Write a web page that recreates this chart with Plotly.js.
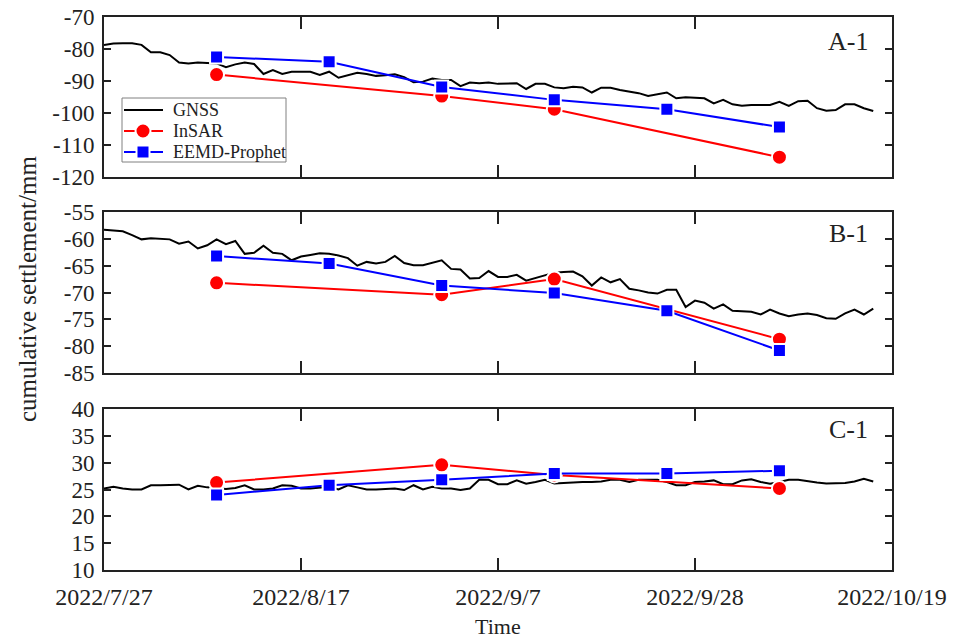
<!DOCTYPE html>
<html>
<head>
<meta charset="utf-8">
<script src="https://cdn.plot.ly/plotly-3.0.1.min.js"></script>
<style>
  html, body { margin: 0; padding: 0; background: #fff; }
  #chart { width: 957px; height: 639px; }
</style>
</head>
<body>
<div id="chart"></div>
<script>
// ---------- DATA ----------
const gnssStart = '2022-07-27';   // GNSS daily series start
const gnssA = [-78.75,-78.3,-78.2,-78.2,-78.7,-81,-81,-81.9,-84.2,-84.5,-84.2,-84.3,-84.5,-85.7,-84.8,-84.2,-84.7,-87.8,-86.6,-87.8,-87.1,-87.1,-87.1,-88.1,-87.1,-89,-88.1,-87.4,-87.8,-88.4,-88.2,-87.9,-88.8,-90.4,-90.2,-89.2,-89.7,-89.7,-91.6,-90.5,-90.7,-90.5,-90.9,-90.9,-90.7,-92.5,-90.9,-90.9,-92,-92.3,-91.8,-92,-93.6,-92.1,-92.1,-92.8,-93.3,-93.8,-94.7,-94.2,-93.6,-95.4,-95.1,-95.2,-95.4,-97,-95.9,-97.3,-97.7,-97.5,-97.5,-97.5,-96.5,-97.8,-96.3,-96.2,-98.5,-99.3,-99.1,-97.3,-97.3,-98.5,-99.4];
const gnssB = [-58.3,-58.4,-58.6,-59.3,-60.1,-59.9,-60,-60.1,-60.9,-60.5,-61.8,-61.2,-60.1,-61,-60.4,-62.8,-62.6,-61.3,-62.6,-62.8,-64,-63.3,-63,-62.7,-62.8,-63.1,-63.6,-65,-64.3,-64.6,-64.3,-63.2,-64.5,-64.9,-64.9,-64.5,-64,-65.6,-65.7,-67.4,-67.3,-66,-67.1,-67.1,-66.7,-67.8,-67.3,-66.7,-66.3,-66.2,-66.1,-67,-68.7,-67.2,-68.1,-67.5,-69.3,-69.6,-70,-70.2,-69.5,-69.5,-72.7,-71.5,-71.9,-73,-72.2,-73.4,-73.5,-73.6,-74.1,-73.2,-73.9,-74.4,-74.1,-73.9,-74.2,-74.8,-74.9,-73.9,-73.2,-74.1,-73];
const gnssC = [25.2,25.5,25.2,25,25,25.8,25.8,25.8,25.9,25,25.7,25.4,25.2,25.1,25.3,25.8,25,25,25.2,25.8,25.7,25.2,25.2,25.3,25.5,25,25.8,25.4,25,25,25.1,25.2,24.9,25.8,25,25.5,25.2,25.2,24.9,25.2,26.8,26.8,26,26,26.7,26.1,26.4,26.8,26.1,26.2,26.4,26.4,26.4,26.5,26.8,26.8,26.4,26.8,26.8,26.8,26.4,25.8,25.8,26.4,26.5,26.7,26,26,26.7,26.9,26.4,26.1,26.4,26.8,26.8,26.5,26.3,26.1,26.1,26.2,26.5,27,26.5];

const insarDates = ['2022-08-08','2022-09-01','2022-09-13','2022-10-07'];
const insarA = [-88, -94.7, -98.8, -113.8];
const insarB = [-68.2, -70.4, -67.5, -78.7];
const insarC = [26.3, 29.6, 27.7, 25.2];

const eemdDates = ['2022-08-08','2022-08-20','2022-09-01','2022-09-13','2022-09-25','2022-10-07'];
const eemdA = [-82.5, -84, -91.9, -95.9, -98.8, -104.4];
const eemdB = [-63.2, -64.6, -68.7, -70.1, -73.4, -80.8];
const eemdC = [24, 25.8, 26.8, 28, 28, 28.5];

const xTickVals = ['2022-07-27','2022-08-17','2022-09-07','2022-09-28','2022-10-19'];
const xTickText = ['2022/7/27','2022/8/17','2022/9/7','2022/9/28','2022/10/19'];
const yTickValsA = [-70,-80,-90,-100,-110,-120];
const yTickTextA = ['-70','-80','-90','-100','-110','-120'];
const yTickValsB = [-55,-60,-65,-70,-75,-80,-85];
const yTickTextB = ['-55','-60','-65','-70','-75','-80','-85'];
const yTickValsC = [40,35,30,25,20,15,10];
const yTickTextC = ['40','35','30','25','20','15','10'];
const panelLabels = ['A-1','B-1','C-1'];
const seriesNames = ['GNSS','InSAR','EEMD-Prophet'];
const seriesColors = ['#000000','#ff0000','#0000ff'];

// ---------- BUILD ----------
function dailyDates(start, n) {
  const out = [];
  const d0 = new Date(start + 'T00:00:00Z');
  for (let i = 0; i < n; i++) {
    const d = new Date(d0.getTime() + i * 86400000);
    out.push(d.toISOString().slice(0, 10));
  }
  return out;
}
const gnssDates = dailyDates(gnssStart, gnssA.length);

const FONT = '"Liberation Serif", "Times New Roman", serif';
const panels = [
  {g: gnssA, i: insarA, e: eemdA, xa: 'x',  ya: 'y'},
  {g: gnssB, i: insarB, e: eemdB, xa: 'x2', ya: 'y2'},
  {g: gnssC, i: insarC, e: eemdC, xa: 'x3', ya: 'y3'}
];
const traces = [];
panels.forEach((p, k) => {
  traces.push({
    x: gnssDates, y: p.g, xaxis: p.xa, yaxis: p.ya, mode: 'lines',
    name: seriesNames[0], showlegend: false,
    line: {color: seriesColors[0], width: 2}
  });
  traces.push({
    x: insarDates, y: p.i, xaxis: p.xa, yaxis: p.ya, mode: 'lines+markers',
    name: seriesNames[1], showlegend: false,
    line: {color: seriesColors[1], width: 2},
    marker: {symbol: 'circle', size: 15, color: seriesColors[1], line: {color: '#fff', width: 2}}
  });
  traces.push({
    x: eemdDates, y: p.e, xaxis: p.xa, yaxis: p.ya, mode: 'lines+markers',
    name: seriesNames[2], showlegend: false,
    line: {color: seriesColors[2], width: 2},
    marker: {symbol: 'square', size: 13, color: seriesColors[2], line: {color: '#fff', width: 2}}
  });
});

function xAxis(anchor, showLabels) {
  return {
    anchor: anchor, type: 'date',
    range: ['2022-07-27', '2022-10-19'],
    tickvals: xTickVals, ticktext: xTickText,
    showticklabels: showLabels,
    ticks: 'inside', ticklen: 12, tickwidth: 2, tickcolor: '#222',
    showline: true, linewidth: 2, linecolor: '#222', mirror: 'ticks',
    showgrid: false, zeroline: false,
    tickfont: {family: FONT, size: 24, color: '#222'},
    ticklabelstandoff: 4
  };
}
function yAxis(anchor, domain, range, vals, text) {
  return {
    anchor: anchor, domain: domain, range: range,
    tickvals: vals, ticktext: text,
    ticks: 'inside', ticklen: 7, tickwidth: 2, tickcolor: '#222',
    showline: true, linewidth: 2, linecolor: '#222', mirror: 'ticks',
    showgrid: false, zeroline: false,
    tickfont: {family: FONT, size: 23, color: '#222'},
    ticklabelstandoff: 3
  };
}

// ---- legend drawn as shapes + text (pixel layout helpers) ----
const L = 104, T = 17, PW = 788, PH = 553;
const px = X => (X - L) / PW;
const py = Y => (T + PH - Y) / PH;
const legRows = [110, 131, 152];
const shapes = [
  {type: 'rect', xref: 'paper', yref: 'paper', x0: px(122), x1: px(286), y0: py(162), y1: py(98),
   line: {color: '#808080', width: 1}, fillcolor: '#fff', layer: 'above'}
];
const legAnn = [];
legRows.forEach((Y, k) => {
  shapes.push({type: 'line', xref: 'paper', yref: 'paper', x0: px(124), x1: px(163), y0: py(Y), y1: py(Y),
    line: {color: seriesColors[k], width: 2}, layer: 'above'});
  if (k === 1) {
    shapes.push({type: 'circle', xref: 'paper', yref: 'paper', x0: px(143 - 7.5), x1: px(143 + 7.5), y0: py(Y + 7.5), y1: py(Y - 7.5),
      line: {color: '#fff', width: 2}, fillcolor: seriesColors[k], layer: 'above'});
  } else if (k === 2) {
    shapes.push({type: 'rect', xref: 'paper', yref: 'paper', x0: px(143 - 6.5), x1: px(143 + 6.5), y0: py(Y + 6.5), y1: py(Y - 6.5),
      line: {color: '#fff', width: 2}, fillcolor: seriesColors[k], layer: 'above'});
  }
  legAnn.push({text: seriesNames[k], xref: 'paper', yref: 'paper', x: px(171), y: py(Y), xanchor: 'left', yanchor: 'middle',
    showarrow: false, font: {family: FONT, size: 18, color: '#222'}});
});

const layout = {
  width: 957, height: 639,
  margin: {l: 104, r: 65, t: 17, b: 69},
  paper_bgcolor: '#fff', plot_bgcolor: '#fff',
  font: {family: FONT, color: '#222'},
  showlegend: false,
  xaxis:  Object.assign(xAxis('y', false),  {domain: [0, 1]}),
  xaxis2: Object.assign(xAxis('y2', false), {domain: [0, 1], matches: 'x'}),
  xaxis3: Object.assign(xAxis('y3', true),  {domain: [0, 1], matches: 'x'}),
  yaxis:  yAxis('x',  [0.7107, 1],      [-120, -70], yTickValsA, yTickTextA),
  yaxis2: yAxis('x2', [0.3562, 0.6474], [-85, -55],  yTickValsB, yTickTextB),
  yaxis3: yAxis('x3', [0, 0.2911],      [10, 40],    yTickValsC, yTickTextC),
  shapes: shapes,
  annotations: [
    {text: panelLabels[0], xref: 'paper', yref: 'paper', x: 0.972, y: 0.9566, xanchor: 'right', yanchor: 'middle', showarrow: false, font: {family: FONT, size: 26, color: '#222'}},
    {text: panelLabels[1], xref: 'paper', yref: 'paper', x: 0.972, y: 0.6076, xanchor: 'right', yanchor: 'middle', showarrow: false, font: {family: FONT, size: 26, color: '#222'}},
    {text: panelLabels[2], xref: 'paper', yref: 'paper', x: 0.972, y: 0.2532, xanchor: 'right', yanchor: 'middle', showarrow: false, font: {family: FONT, size: 26, color: '#222'}},
    {text: 'cumulative settlement/mm', xref: 'paper', yref: 'paper', x: px(27), y: py(289), xanchor: 'center', yanchor: 'middle', textangle: -90, showarrow: false, font: {family: FONT, size: 25, color: '#222'}},
    {text: 'Time', xref: 'paper', yref: 'paper', x: 0.5, y: py(626), xanchor: 'center', yanchor: 'middle', showarrow: false, font: {family: FONT, size: 22, color: '#222'}}
  ].concat(legAnn)
};

Plotly.newPlot('chart', traces, layout, {staticPlot: true, displayModeBar: false});
</script>
</body>
</html>
